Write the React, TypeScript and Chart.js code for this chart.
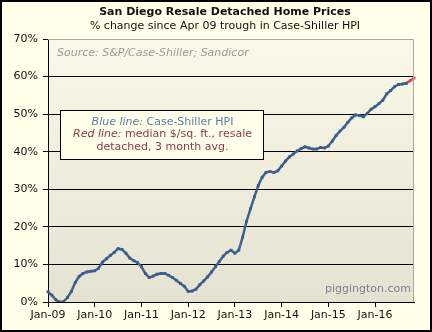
import React, { useEffect, useRef } from "react";
import { Chart, registerables } from "chart.js";

Chart.register(...registerables);

const monthNames = ["Jan", "Feb", "Mar", "Apr", "May", "Jun", "Jul", "Aug", "Sep", "Oct", "Nov", "Dec"];
const yearSuffixes = ["09", "10", "11", "12", "13", "14", "15", "16"];
const lastMonthCount = 95; // Jan-09 .. Nov-16

const months: string[] = [];
for (const y of yearSuffixes) for (const m of monthNames) months.push(`${m}-${y}`);
const labels = months.slice(0, lastMonthCount);

// Case-Shiller HPI, % change since Apr-09 trough (Jan-09 .. Sep-16)
const blueValues = [
  2.7, 1.8, 0.6, 0.0, 0.1, 1.2, 2.8, 5.2, 6.8, 7.6, 8.0, 8.2,
  8.3, 9.0, 10.6, 11.5, 12.4, 13.2, 14.2, 14.0, 13.0, 11.7, 11.0, 10.5,
  9.4, 7.6, 6.5, 6.9, 7.4, 7.6, 7.6, 7.1, 6.5, 5.7, 4.9, 4.2,
  2.8, 2.9, 3.4, 4.6, 5.6, 6.7, 8.0, 9.4, 10.8, 12.2, 13.2, 13.8,
  13.0, 13.8, 17.3, 21.5, 24.8, 28.0, 31.0, 33.2, 34.5, 34.7, 34.5, 34.9,
  36.2, 37.5, 38.6, 39.4, 40.2, 40.8, 41.3, 41.0, 40.7, 40.7, 41.1, 41.0,
  41.5, 42.8, 44.3, 45.5, 46.5, 47.8, 49.0, 49.8, 49.6, 49.3, 50.2, 51.3,
  52.0, 52.8, 53.7, 55.4, 56.3, 57.3, 57.9, 58.0, 58.2,
];

// median $/sq. ft. (visible tail only)
const redMonths = ["Sep-16", "Oct-16", "Nov-16"];
const redValues = [58.2, 58.9, 59.6];

const yTicks = [0, 10, 20, 30, 40, 50, 60, 70];

const FONT = "DejaVu Sans";

const decorPlugin = {
  id: "decor",
  beforeDraw(chart: any) {
    const { ctx, chartArea: a, width, height } = chart;
    ctx.save();
    ctx.fillStyle = "#FFFFEA";
    ctx.fillRect(0, 0, width, height);
    const g = ctx.createLinearGradient(0, a.top, 0, a.bottom);
    g.addColorStop(0, "#FAF8E6");
    g.addColorStop(1, "#E6E2D1");
    ctx.fillStyle = g;
    ctx.fillRect(a.left, a.top, a.right - a.left, a.bottom - a.top);

    ctx.fillStyle = "#111";
    ctx.textAlign = "center";
    ctx.textBaseline = "middle";
    ctx.font = `bold 11px ${FONT}`;
    ctx.fillText("San Diego Resale Detached Home Prices", 225, 12);
    ctx.font = `11px ${FONT}`;
    ctx.fillText("% change since Apr 09 trough in Case-Shiller HPI", 225, 26);

    ctx.textAlign = "left";
    ctx.font = `italic 11px ${FONT}`;
    ctx.fillStyle = "#9A9A9A";
    ctx.fillText("Source: S&P/Case-Shiller; Sandicor", a.left + 9, a.top + 14);

    ctx.textAlign = "right";
    ctx.font = `11px ${FONT}`;
    ctx.fillStyle = "#7B7B9C";
    ctx.fillText("piggington.com", a.right - 3, a.bottom - 13);
    ctx.restore();
  },
  afterDraw(chart: any) {
    const { ctx, chartArea: a, width, height } = chart;
    ctx.save();
    // top & right plot border
    ctx.strokeStyle = "#A8A8A0";
    ctx.lineWidth = 1;
    ctx.beginPath();
    ctx.moveTo(a.left, a.top + 0.5);
    ctx.lineTo(a.right - 0.5, a.top + 0.5);
    ctx.lineTo(a.right - 0.5, a.bottom);
    ctx.stroke();

    // legend box
    const bx = 60, by = 110, bw = 203, bh = 49;
    ctx.fillStyle = "#FFFFEA";
    ctx.fillRect(bx, by, bw, bh);
    ctx.strokeStyle = "#000";
    ctx.strokeRect(bx + 0.5, by + 0.5, bw, bh);
    const cx = bx + bw / 2 + 1;
    ctx.textBaseline = "middle";
    ctx.textAlign = "left";
    const mixed = (it: string, rest: string, y: number, color: string) => {
      ctx.font = `italic 11px ${FONT}`;
      const w1 = ctx.measureText(it).width;
      ctx.font = `11px ${FONT}`;
      const w2 = ctx.measureText(rest).width;
      const x0 = cx - (w1 + w2) / 2;
      ctx.fillStyle = color;
      ctx.font = `italic 11px ${FONT}`;
      ctx.fillText(it, x0, y);
      ctx.font = `11px ${FONT}`;
      ctx.fillText(rest, x0 + w1, y);
    };
    mixed("Blue line:", " Case-Shiller HPI", by + 12, "#5B7FA8");
    mixed("Red line:", " median $/sq. ft., resale", by + 24, "#8A3A50");
    ctx.textAlign = "center";
    ctx.fillStyle = "#8A3A50";
    ctx.font = `11px ${FONT}`;
    ctx.fillText("detached, 3 month avg.", cx, by + 37);

    // outer frame
    ctx.strokeStyle = "#000";
    ctx.lineWidth = 2;
    ctx.strokeRect(1, 1, width - 2, height - 2);
    ctx.restore();
  },
};

export default function App() {
  const ref = useRef<HTMLCanvasElement>(null);
  useEffect(() => {
    document.body.style.margin = "0";
    const chart = new Chart(ref.current as HTMLCanvasElement, {
      type: "line",
      data: {
        labels,
        datasets: [
          {
            data: blueValues,
            borderColor: "#3F6390",
            backgroundColor: "#3A5E8C",
            borderWidth: 2.5,
            pointRadius: 2,
            pointStyle: "rect",
            pointBorderWidth: 0,
            tension: 0,
          },
          {
            data: redMonths.map((m, i) => ({ x: m, y: redValues[i] })),
            borderColor: "#D05050",
            backgroundColor: "#D05050",
            borderWidth: 2.5,
            pointRadius: 2,
            pointStyle: "rect",
            pointBorderWidth: 0,
            tension: 0,
          },
        ],
      },
      options: {
        responsive: false,
        animation: false,
        events: [],
        layout: { padding: { top: 39, right: 18, bottom: 0, left: 0 } },
        plugins: { legend: { display: false }, tooltip: { enabled: false }, title: { display: false } },
        scales: {
          x: {
            type: "category",
            offset: false,
            afterFit: (s: any) => { s.height = 30; },
            border: { display: true, color: "#000", width: 1 },
            grid: {
              drawOnChartArea: false,
              drawTicks: true,
              tickLength: 5,
              tickColor: (c: any) => (labels[c.index] && labels[c.index].startsWith("Jan") ? "#000" : "rgba(0,0,0,0)"),
            },
            ticks: {
              autoSkip: false,
              maxRotation: 0,
              padding: 2,
              color: "#111",
              font: { family: FONT, size: 11 },
              callback: (_v: any, i: number) => (labels[i].startsWith("Jan") ? labels[i] : ""),
            },
          },
          y: {
            min: 0,
            max: 70,
            afterFit: (s: any) => { s.width = 48; },
            afterBuildTicks: (s: any) => { s.ticks = yTicks.map((v) => ({ value: v })); },
            border: { display: true, color: "#000", width: 1 },
            grid: {
              color: (c: any) => (c.tick && c.tick.value === 70 ? "rgba(0,0,0,0)" : "#000"),
              tickColor: "#000",
              tickLength: 5,
              lineWidth: 1,
            },
            ticks: {
              padding: 5,
              color: "#111",
              font: { family: FONT, size: 11 },
              callback: (v: any) => `${v}%`,
            },
          },
        },
      },
      plugins: [decorPlugin],
    } as any);
    return () => chart.destroy();
  }, []);
  return (
    <div style={{ width: 432, height: 332 }}>
      <canvas ref={ref} width={432} height={332} />
    </div>
  );
}
